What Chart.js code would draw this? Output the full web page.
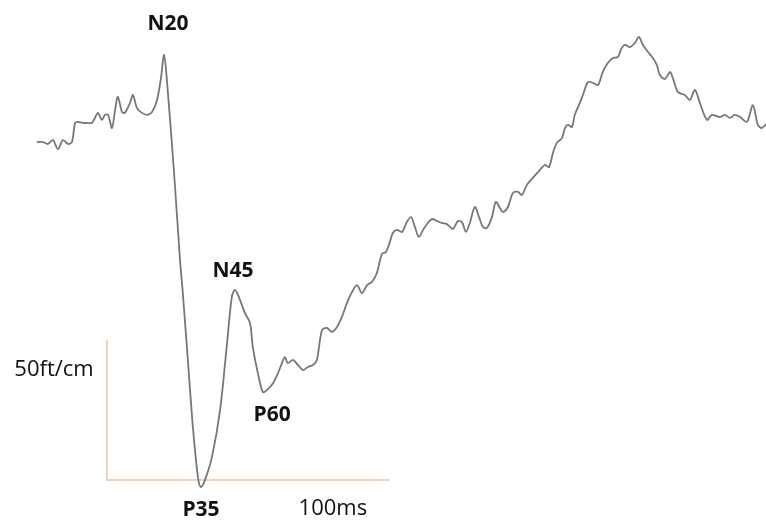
<!DOCTYPE html>
<html>
<head>
<meta charset="utf-8">
<script src="https://cdn.jsdelivr.net/npm/chart.js@4/dist/chart.umd.min.js"></script>
<style>
  html, body { margin: 0; padding: 0; background: #fff; }
  #wrap { width: 766px; height: 521px; }
</style>
</head>
<body>
<div id="wrap"><canvas id="chart" width="766" height="521"></canvas></div>
<script>
// time (ms from stimulus) and field amplitude (fT)
const times = [
  -25.0, -22.9, -21.1, -19.3, -17.5, -15.7, -13.9, -12.5, -11.4, -10.4,
  -8.6, -6.8, -5.4, -4.3, -3.2, -1.8, -0.7, 0.4, 1.8, 2.9,
  3.9, 5.4, 6.4, 8.2, 9.3, 10.7, 12.5, 14.3, 16.1, 17.9,
  19.3, 20.4, 21.4, 23.9, 26.1, 27.1, 28.9, 30.7, 32.5, 33.6,
  35.0, 37.5, 40.4, 42.9, 44.6, 45.7, 46.8, 49.3, 51.1, 52.1,
  53.9, 55.7, 57.1, 59.3, 61.1, 62.5, 63.6, 64.6, 66.4, 68.2,
  70.0, 71.8, 73.6, 75.0, 76.8, 78.6, 80.4, 82.1, 83.9, 85.7,
  87.5, 89.3, 91.1, 92.9, 94.6, 96.4, 98.2, 99.6, 100.7, 102.1,
  103.6, 105.4, 107.1, 108.6, 110.0, 111.4, 112.9, 114.6, 116.1, 117.9,
  119.6, 121.4, 122.5, 123.6, 125.4, 126.8, 128.2, 129.6, 131.4, 132.9,
  134.3, 135.7, 137.5, 138.9, 140.4, 141.4, 143.2, 145.0, 146.8, 148.2,
  150.0, 152.1, 154.6, 156.4, 157.9, 159.3, 160.7, 162.5, 163.6, 164.6,
  166.1, 167.1, 168.6, 170.0, 171.8, 173.6, 175.4, 177.1, 178.9, 180.7,
  182.5, 183.9, 185.0, 186.8, 188.6, 190.0, 191.4, 193.2, 195.0, 196.4,
  197.5, 199.3, 201.1, 202.1, 203.9, 206.4, 208.2, 210.0, 211.8, 214.3,
  216.1, 218.9, 220.7, 222.5, 224.3, 226.1, 228.6, 230.7, 232.5, 233.9,
  235.4
];
const field = [
  120.7, 120.7, 120.0, 121.4, 118.2, 121.4, 120.0, 120.7, 127.5, 127.9,
  127.5, 127.5, 127.5, 129.3, 131.1, 128.6, 130.4, 130.4, 125.7, 132.1,
  136.8, 131.4, 131.1, 134.6, 137.5, 132.9, 131.1, 130.4, 131.4, 135.7,
  143.6, 151.8, 142.9, 110.7, 78.6, 66.8, 42.9, 18.9, 1.1, -2.5,
  0.0, 8.2, 25.0, 48.9, 65.4, 67.9, 66.1, 59.6, 56.1, 47.5,
  38.2, 31.4, 32.1, 34.6, 38.2, 41.8, 43.9, 41.8, 42.9, 41.1,
  39.3, 40.4, 41.1, 42.9, 53.6, 54.3, 52.9, 54.6, 58.2, 63.2,
  67.1, 69.6, 66.8, 69.6, 70.7, 73.9, 80.7, 81.4, 83.9, 88.2,
  89.3, 88.6, 92.1, 93.9, 90.4, 86.8, 89.3, 91.8, 93.2, 92.5,
  91.8, 91.4, 90.4, 89.6, 92.5, 92.1, 88.6, 91.8, 97.5, 93.9,
  90.4, 90.0, 93.9, 99.3, 97.1, 95.7, 97.5, 102.5, 102.9, 101.8,
  105.4, 107.9, 110.7, 112.5, 111.8, 116.8, 120.4, 122.1, 125.7, 126.8,
  126.1, 130.4, 133.9, 137.5, 142.1, 141.8, 141.1, 145.7, 148.9, 150.7,
  151.1, 154.3, 155.4, 154.6, 156.1, 158.2, 155.4, 152.9, 150.7, 148.2,
  144.6, 143.2, 145.7, 143.6, 138.6, 137.5, 135.7, 139.3, 134.6, 128.6,
  130.4, 129.6, 130.4, 129.3, 130.4, 129.6, 127.9, 133.9, 126.8, 125.7,
  127.1
];

// calibration bar: 50 fT up, 100 ms across
const barTimes = [0, 0, 101];
const barField = [50, 0, 0];

// component labels and bar captions
const labelText = ['N20', 'N45', 'P60', 'P35', '100ms', '50ft/cm'];
const labelTime = [21.8, 45.0, 59.0, 33.6, 80.7, -18.9];
const labelField = [162.7, 74.6, 23.2, -10.7, -10.2, 39.5];
const labelBold = [true, true, true, true, false, false];

const toPoints = (xs, ys) => xs.map((x, i) => ({ x, y: ys[i] }));

const labelPlugin = {
  id: 'peakLabels',
  afterDatasetsDraw(c) {
    const ctx = c.ctx;
    const sx = c.scales.x;
    const sy = c.scales.y;
    ctx.save();
    ctx.fillStyle = '#111';
    ctx.textAlign = 'center';
    ctx.textBaseline = 'middle';
    labelText.forEach((t, i) => {
      ctx.font = labelBold[i] ? 'bold 21px "Open Sans"' : '22px "Open Sans"';
      ctx.fillText(t, sx.getPixelForValue(labelTime[i]), sy.getPixelForValue(labelField[i]));
    });
    ctx.restore();
  },
};

new Chart(document.getElementById('chart'), {
  type: 'line',
  data: {
    datasets: [
      {
        label: 'SEF',
        data: toPoints(times, field),
        borderColor: '#777777',
        borderWidth: 1.8,
        pointRadius: 0,
        tension: 0.3,
      },
      {
        label: 'scale',
        data: toPoints(barTimes, barField),
        borderColor: '#f1d2b9',
        borderWidth: 2,
        pointRadius: 0,
        tension: 0,
      },
    ],
  },
  options: {
    responsive: false,
    animation: false,
    clip: false,
    layout: { padding: 0 },
    scales: {
      x: { type: 'linear', min: -38.2, max: 235.4, display: false },
      y: { type: 'linear', min: -14.6, max: 171.4, display: false },
    },
    plugins: {
      legend: { display: false },
      tooltip: { enabled: false },
    },
  },
  plugins: [labelPlugin],
});
</script>
</body>
</html>
